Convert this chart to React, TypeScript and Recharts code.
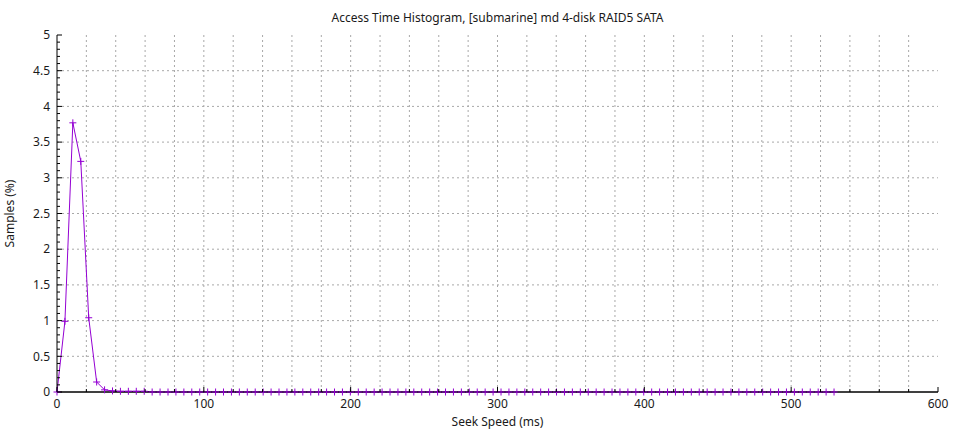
import { LineChart, Line, XAxis, YAxis, CartesianGrid, ReferenceLine } from 'recharts';

const seekMs = [
  0, 5.4, 10.8, 16.2, 21.6, 27, 32.4, 37.8, 43.2, 48.6,
  54, 59.4, 64.8, 70.2, 75.6, 81, 86.4, 91.8, 97.2, 102.6,
  108, 113.4, 118.8, 124.2, 129.6, 135, 140.4, 145.8, 151.2, 156.6,
  162, 167.4, 172.8, 178.2, 183.6, 189, 194.4, 199.8, 205.2, 210.6,
  216, 221.4, 226.8, 232.2, 237.6, 243, 248.4, 253.8, 259.2, 264.6,
  270, 275.4, 280.8, 286.2, 291.6, 297, 302.4, 307.8, 313.2, 318.6,
  324, 329.4, 334.8, 340.2, 345.6, 351, 356.4, 361.8, 367.2, 372.6,
  378, 383.4, 388.8, 394.2, 399.6, 405, 410.4, 415.8, 421.2, 426.6,
  432, 437.4, 442.8, 448.2, 453.6, 459, 464.4, 469.8, 475.2, 480.6,
  486, 491.4, 496.8, 502.2, 507.6, 513, 518.4, 523.8, 529.2,
];

const samplesPct = [
  0, 0.99, 3.77, 3.23, 1.04, 0.14, 0.03, 0.015, 0.01, 0.01,
  0.01, 0.01, 0, 0, 0, 0, 0, 0, 0, 0,
  0, 0, 0, 0, 0, 0, 0, 0, 0, 0,
  0, 0, 0, 0, 0, 0, 0, 0, 0, 0,
  0, 0, 0, 0, 0, 0, 0, 0, 0, 0,
  0, 0, 0, 0, 0, 0, 0, 0, 0, 0,
  0, 0, 0, 0, 0, 0, 0, 0, 0, 0,
  0, 0, 0, 0, 0, 0, 0, 0, 0, 0,
  0, 0, 0, 0, 0, 0, 0, 0, 0, 0,
  0, 0, 0, 0, 0, 0, 0, 0, 0,
];

const xTicks = [0, 20, 40, 60, 80, 100, 120, 140, 160, 180, 200, 220, 240, 260, 280, 300,
  320, 340, 360, 380, 400, 420, 440, 460, 480, 500, 520, 540, 560, 580, 600];
const xLabelTicks = [0, 100, 200, 300, 400, 500, 600];
const yTicks = [0, 0.1, 0.2, 0.3, 0.4, 0.5, 0.6, 0.7, 0.8, 0.9, 1, 1.1, 1.2, 1.3, 1.4, 1.5,
  1.6, 1.7, 1.8, 1.9, 2, 2.1, 2.2, 2.3, 2.4, 2.5, 2.6, 2.7, 2.8, 2.9, 3, 3.1, 3.2, 3.3, 3.4,
  3.5, 3.6, 3.7, 3.8, 3.9, 4, 4.1, 4.2, 4.3, 4.4, 4.5, 4.6, 4.7, 4.8, 4.9, 5];
const yLabelTicks = ['0', '0.5', '1', '1.5', '2', '2.5', '3', '3.5', '4', '4.5', '5'];
const xGrid = xTicks.slice(1, -1);
const yGrid = [0.5, 1, 1.5, 2, 2.5, 3, 3.5, 4, 4.5];

const FONT = '"Noto Sans", sans-serif';
const PURPLE = '#9400d3';

const data = seekMs.map((ms, i) => ({ ms, pct: samplesPct[i] }));

const fmt = (v: number) => String(Math.round(v * 10) / 10);

function BottomTick(props: any) {
  const { x, y, payload } = props;
  const major = xLabelTicks.includes(payload.value);
  return (
    <g>
      <line x1={x} x2={x} y1={y} y2={y - (major ? 5 : 3)} stroke="#000" />
      {major && (
        <text x={x} y={y + 16} textAnchor="middle" fontSize={12} fontFamily={FONT} fill="#1a1a1a">
          {payload.value}
        </text>
      )}
    </g>
  );
}

function TopTick(props: any) {
  const { x, y } = props;
  return <line x1={x} x2={x} y1={y} y2={y + 4} stroke="#000" />;
}

function LeftTick(props: any) {
  const { x, y, payload } = props;
  const label = fmt(payload.value);
  const major = yLabelTicks.includes(label);
  return (
    <g>
      <line x1={x} x2={x + (major ? 5 : 3)} y1={y} y2={y} stroke="#000" />
      {major && (
        <text x={x - 7} y={y} dy="0.35em" textAnchor="end" fontSize={12} fontFamily={FONT} fill="#1a1a1a">
          {label}
        </text>
      )}
    </g>
  );
}

function RightTick(props: any) {
  const { x, y, payload } = props;
  const major = yLabelTicks.includes(fmt(payload.value));
  return <line x1={x} x2={x - (major ? 5 : 3)} y1={y} y2={y} stroke="#000" />;
}

function PlusDot(props: any) {
  const { cx, cy } = props;
  if (cx == null || cy == null) return <g />;
  return <path d={`M${cx - 3.5},${cy}h7M${cx},${cy - 3.5}v7`} stroke={PURPLE} strokeWidth={1} fill="none" />;
}

export default function App() {
  return (
    <div style={{ position: 'absolute', left: 0, top: 0, width: 960, height: 432, background: '#fff' }}>
      <div
        style={{
          position: 'absolute',
          left: 57,
          width: 881,
          top: 9,
          textAlign: 'center',
          fontFamily: FONT,
          fontSize: 12,
          color: '#1a1a1a',
        }}
      >
        Access Time Histogram, [submarine] md 4-disk RAID5 SATA
      </div>
      <LineChart width={960} height={432} data={data} margin={{ top: 35, right: 22, bottom: 0, left: 0 }}>
        <CartesianGrid
          stroke="#a8a8a8"
          strokeDasharray="2 3"
          verticalValues={xGrid}
          horizontalValues={yGrid}
          xAxisId="bottom"
          yAxisId="left"
        />
        <XAxis
          xAxisId="bottom"
          dataKey="ms"
          type="number"
          domain={[0, 600]}
          ticks={xTicks}
          interval={0}
          height={40}
          tickSize={0}
          tickMargin={0}
          tickLine={false}
          tick={<BottomTick />}
          axisLine={{ stroke: '#000' }}
          label={{
            value: 'Seek Speed (ms)',
            content: (p: any) => (
              <text
                x={p.viewBox.x + p.viewBox.width / 2}
                y={p.viewBox.y + 34}
                textAnchor="middle"
                fontSize={12}
                fontFamily={FONT}
                fill="#1a1a1a"
              >
                Seek Speed (ms)
              </text>
            ),
          }}
        />
        <XAxis
          xAxisId="top"
          orientation="top"
          dataKey="ms"
          type="number"
          domain={[0, 600]}
          ticks={xTicks}
          interval={0}
          height={0}
          tickSize={0}
          tickMargin={0}
          tickLine={false}
          tick={<TopTick />}
          axisLine={{ stroke: '#000' }}
        />
        <YAxis
          yAxisId="left"
          type="number"
          domain={[0, 5]}
          ticks={yTicks}
          interval={0}
          width={57}
          tickSize={0}
          tickMargin={0}
          tickLine={false}
          tick={<LeftTick />}
          axisLine={{ stroke: '#000' }}
          label={{
            value: 'Samples (%)',
            content: (p: any) => {
              const cx = 14;
              const cy = p.viewBox.y + p.viewBox.height / 2;
              return (
                <text
                  x={cx}
                  y={cy}
                  transform={`rotate(-90, ${cx}, ${cy})`}
                  textAnchor="middle"
                  fontSize={12}
                  fontFamily={FONT}
                  fill="#1a1a1a"
                >
                  Samples (%)
                </text>
              );
            },
          }}
        />
        <YAxis
          yAxisId="right"
          orientation="right"
          type="number"
          domain={[0, 5]}
          ticks={yTicks}
          interval={0}
          width={0}
          tickSize={0}
          tickMargin={0}
          tickLine={false}
          tick={<RightTick />}
          axisLine={{ stroke: '#000' }}
        />
        <Line
          xAxisId="bottom"
          yAxisId="left"
          type="linear"
          dataKey="pct"
          stroke={PURPLE}
          strokeWidth={1}
          dot={<PlusDot />}
          activeDot={false}
          isAnimationActive={false}
        />
        <ReferenceLine xAxisId="bottom" yAxisId="left" y={0} stroke="#000" strokeWidth={1} />
      </LineChart>
    </div>
  );
}
